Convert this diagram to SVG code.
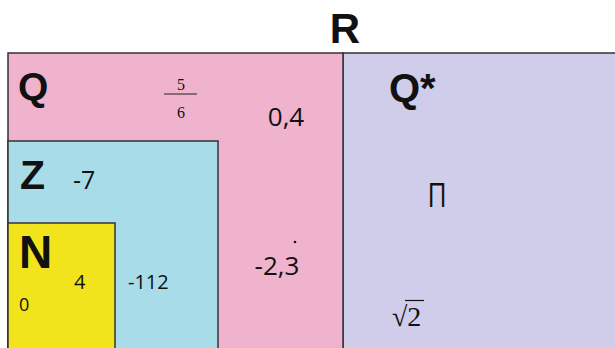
<svg xmlns="http://www.w3.org/2000/svg" width="615" height="348" viewBox="0 0 615 348">
<style>
.b{font-family:"Liberation Sans",Arial,sans-serif;font-weight:bold;fill:#111}
.t{font-family:"Open Sans","Liberation Sans",sans-serif;fill:#111}
.s{font-family:"Liberation Serif","Times New Roman",serif;fill:#111}
.box{stroke:#333;stroke-width:1.5}
</style>
<rect width="615" height="348" fill="#ffffff"/>
<text class="b" x="345" y="43" font-size="42" text-anchor="middle">R</text>
<g id="Qstar">
<rect class="box" x="343" y="53" width="280" height="300" fill="#cfcde9"/>
<text class="b" x="389" y="102" font-size="40">Q*</text>
<text class="t" transform="translate(437,207) scale(0.8,1)" font-size="33" text-anchor="middle">Π</text>
<text class="s" x="392" y="326" font-size="28">√2</text>
<line x1="405" y1="300.5" x2="424" y2="300.5" stroke="#111" stroke-width="1.2"/>
</g>
<g id="Q">
<rect class="box" x="8" y="53" width="335" height="300" fill="#efb3cd"/>
<text class="b" x="18" y="100" font-size="39">Q</text>
<text class="s" x="181" y="90" font-size="16" text-anchor="middle">5</text>
<line x1="164" y1="94" x2="197" y2="94" stroke="#222" stroke-width="1"/>
<text class="s" x="181" y="118" font-size="16" text-anchor="middle">6</text>
<text class="t" x="286" y="126" font-size="26" text-anchor="middle">0,4</text>
<text class="t" x="277" y="275" font-size="26" text-anchor="middle">-2,3</text>
<circle cx="295" cy="242" r="1.3" fill="#111"/>
</g>
<g id="Z">
<rect class="box" x="8" y="141" width="210" height="212" fill="#a8dce9"/>
<text class="b" x="20" y="189" font-size="41">Z</text>
<text class="t" x="73" y="189" font-size="25">-7</text>
<text class="t" x="128" y="289" font-size="20">-112</text>
</g>
<g id="N">
<rect class="box" x="8" y="223" width="107" height="130" fill="#f1e41c"/>
<text class="b" x="19" y="268" font-size="46">N</text>
<text class="t" x="74" y="289" font-size="20">4</text>
<text class="t" x="19" y="311" font-size="18">0</text>
</g>
<g id="connectors"></g>
</svg>
